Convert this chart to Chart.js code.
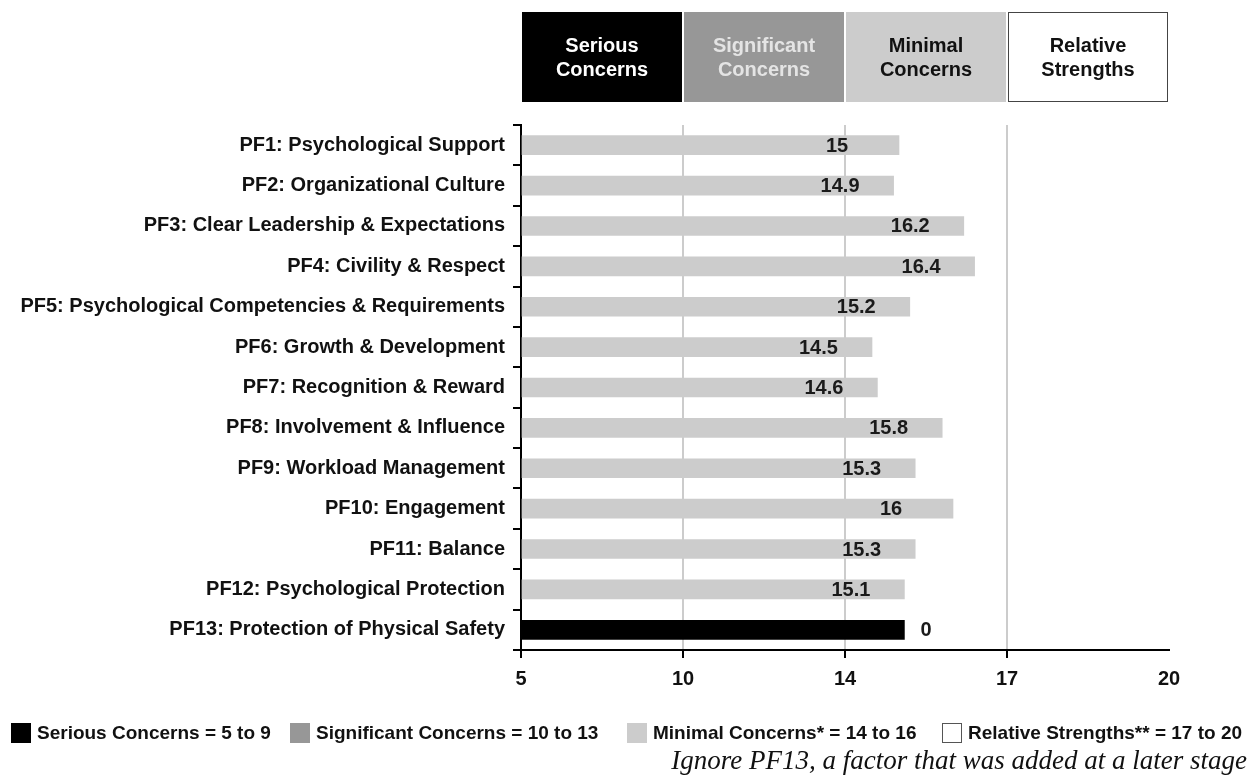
<!DOCTYPE html>
<html>
<head>
<meta charset="utf-8">
<script src="https://cdn.jsdelivr.net/npm/chart.js@4.4.1/dist/chart.umd.min.js"></script>
<style>
  body { margin: 0; background: #fff; }
  #wrap { position: relative; width: 1260px; height: 775px; }
  #legend {
    position: absolute; left: 0; top: 722px; width: 1260px; height: 24px;
    font: bold 19px "Liberation Sans", Arial, sans-serif; color: #111;
  }
  #legend .item { position: absolute; top: 0; display: flex; align-items: center; white-space: nowrap; }
  #legend .box { width: 20px; height: 20px; box-sizing: border-box; margin-right: 6px; flex-shrink: 0; }
  #note {
    position: absolute; right: 13px; top: 745px;
    font: italic 27px "Liberation Serif", "Times New Roman", serif; color: #111;
    white-space: nowrap;
  }
</style>
</head>
<body>
<div id="wrap">
  <canvas id="psChart" width="1260" height="775"></canvas>
  <div id="legend"></div>
  <div id="note">Ignore PF13, a factor that was added at a later stage</div>
</div>
<script>
const factors = [
  'PF1: Psychological Support',
  'PF2: Organizational Culture',
  'PF3: Clear Leadership & Expectations',
  'PF4: Civility & Respect',
  'PF5: Psychological Competencies & Requirements',
  'PF6: Growth & Development',
  'PF7: Recognition & Reward',
  'PF8: Involvement & Influence',
  'PF9: Workload Management',
  'PF10: Engagement',
  'PF11: Balance',
  'PF12: Psychological Protection',
  'PF13: Protection of Physical Safety'
];
// printed scores (PF13 shows 0)
const scores = [15, 14.9, 16.2, 16.4, 15.2, 14.5, 14.6, 15.8, 15.3, 16, 15.3, 15.1, 0];
// PF13 is drawn as a black placeholder bar of this length
const pf13Length = 15.1;

const bandEdges = [5, 10, 14, 17, 20];
const bandNames = [['Serious', 'Concerns'], ['Significant', 'Concerns'], ['Minimal', 'Concerns'], ['Relative', 'Strengths']];
const bandFills = ['#000000', '#979797', '#cccccc', '#ffffff'];
const bandTextColors = ['#ffffff', '#e4e4e4', '#111111', '#111111'];
const legendLabels = [
  'Serious Concerns = 5 to 9',
  'Significant Concerns = 10 to 13',
  'Minimal Concerns* = 14 to 16',
  'Relative Strengths** = 17 to 20'
];
const legendLeft = [11, 290, 627, 942];

const FONT = '"Liberation Sans", Arial, Helvetica, sans-serif';
Chart.defaults.font.family = FONT;

// the axis gives each band the same width, so map a score onto band units
function toBand(v) {
  for (let i = 0; i < bandEdges.length - 1; i++) {
    if (v <= bandEdges[i + 1]) {
      return i + (v - bandEdges[i]) / (bandEdges[i + 1] - bandEdges[i]);
    }
  }
  return bandEdges.length - 1;
}

const isPF13 = f => f.startsWith('PF13');
const barLengths = scores.map((s, i) => isPF13(factors[i]) ? pf13Length : s);

const bandHeader = {
  id: 'bandHeader',
  afterDraw(chart) {
    const ctx = chart.ctx;
    const x = chart.scales.x;
    ctx.save();
    ctx.font = 'bold 20px ' + FONT;
    ctx.textAlign = 'center';
    ctx.textBaseline = 'middle';
    for (let i = 0; i < bandNames.length; i++) {
      const left = x.getPixelForValue(i);
      const right = x.getPixelForValue(i + 1);
      ctx.fillStyle = bandFills[i];
      ctx.fillRect(left + 1, 12, right - left - 2, 90);
      if (i === bandNames.length - 1) {
        ctx.strokeStyle = '#444';
        ctx.lineWidth = 1;
        ctx.strokeRect(left + 1.5, 12.5, right - left - 3, 89);
      }
      ctx.fillStyle = bandTextColors[i];
      ctx.fillText(bandNames[i][0], (left + right) / 2, 46);
      ctx.fillText(bandNames[i][1], (left + right) / 2, 70);
    }
    ctx.restore();
  }
};

const valueLabels = {
  id: 'valueLabels',
  afterDatasetsDraw(chart) {
    const ctx = chart.ctx;
    const meta = chart.getDatasetMeta(0);
    ctx.save();
    ctx.font = 'bold 20px ' + FONT;
    ctx.fillStyle = '#1a1a1a';
    ctx.textAlign = 'left';
    ctx.textBaseline = 'middle';
    meta.data.forEach((bar, i) => {
      const px = isPF13(factors[i]) ? bar.x + 16 : bar.x - 73;
      ctx.fillText(String(scores[i]), px, bar.y + 1);
    });
    ctx.restore();
  }
};

new Chart(document.getElementById('psChart'), {
  type: 'bar',
  data: {
    labels: factors,
    datasets: [{
      data: barLengths.map(toBand),
      backgroundColor: factors.map(f => isPF13(f) ? '#000000' : '#cccccc'),
      barThickness: 19
    }]
  },
  options: {
    indexAxis: 'y',
    responsive: false,
    animation: false,
    layout: { padding: { top: 125, right: 91, bottom: 75, left: 0 } },
    plugins: {
      legend: { display: false },
      tooltip: { enabled: false }
    },
    scales: {
      x: {
        min: 0,
        max: bandEdges.length - 1,
        afterBuildTicks: scale => {
          scale.ticks = bandEdges.map((_, i) => ({ value: i }));
        },
        ticks: {
          callback: v => bandEdges[v],
          font: { size: 20, weight: 'bold' },
          color: '#111',
          padding: 9,
          maxRotation: 0
        },
        grid: {
          color: c => (c.index > 0 && c.index < bandEdges.length - 1) ? '#cccccc' : 'rgba(0,0,0,0)',
          lineWidth: 2,
          tickColor: c => c.index < bandEdges.length - 1 ? '#000' : 'rgba(0,0,0,0)',
          tickLength: 8,
          tickWidth: 2
        },
        border: { color: '#000', width: 2 }
      },
      y: {
        z: 1,
        afterFit: scale => { scale.width = 521; },
        ticks: {
          font: { size: 20, weight: 'bold' },
          color: '#111',
          padding: 8
        },
        grid: {
          drawOnChartArea: false,
          color: '#000',
          lineWidth: 2,
          tickLength: 8
        },
        border: { color: '#000', width: 2 }
      }
    }
  },
  plugins: [bandHeader, valueLabels]
});

const legend = document.getElementById('legend');
legendLabels.forEach((text, i) => {
  const item = document.createElement('div');
  item.className = 'item';
  item.style.left = legendLeft[i] + 'px';
  const box = document.createElement('div');
  box.className = 'box';
  box.style.background = bandFills[i];
  if (bandFills[i] === '#ffffff') box.style.border = '1px solid #555';
  const label = document.createElement('span');
  label.textContent = text;
  item.appendChild(box);
  item.appendChild(label);
  legend.appendChild(item);
});
</script>
</body>
</html>
